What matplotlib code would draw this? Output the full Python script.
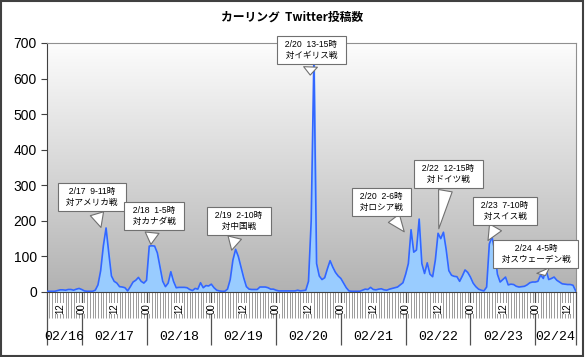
import numpy as np
import matplotlib
matplotlib.use("Agg")
import matplotlib.pyplot as plt
from matplotlib.colors import LinearSegmentedColormap
from matplotlib.patches import Rectangle

plt.rcParams['font.family'] = ['Liberation Sans', 'Noto Sans CJK JP', 'DejaVu Sans']

# hourly tweet counts, 02/16 11:00 -> 02/24 15:00
counts = [2, 2, 2, 2, 4, 6, 6, 5, 7, 7, 5, 8, 10,
          7, 3, 2, 2, 2, 5, 20, 60, 130, 180, 110, 45, 30, 25, 15, 14, 12, 3, 15, 28, 33, 41, 30, 25,
          33, 129, 130, 129, 110, 70, 30, 15, 25, 57, 30, 12, 13, 13, 13, 12, 7, 4, 10, 8, 26, 12, 18, 17,
          22, 12, 5, 3, 2, 2, 8, 35, 90, 120, 100, 70, 40, 15, 8, 7, 7, 7, 14, 14, 14, 12, 8, 8,
          5, 3, 3, 3, 3, 3, 3, 3, 5, 3, 4, 5, 30, 200, 657, 80, 45, 35, 40, 65, 88, 70, 55, 45,
          38, 25, 12, 3, 2, 2, 2, 2, 5, 8, 7, 13, 7, 6, 8, 9, 6, 5, 8, 10, 12, 14, 20, 26,
          50, 80, 175, 112, 118, 205, 80, 52, 82, 50, 43, 90, 165, 150, 168, 120, 60, 47, 44, 43, 30, 45,
          62, 55, 42, 25, 15, 8, 5, 3, 14, 135, 155, 115, 50, 28, 35, 42, 20, 22, 21, 16, 14, 15,
          16, 20, 26, 28, 28, 30, 48, 38, 63, 35, 38, 42, 33, 28, 23, 22, 21, 21, 19, 3]

days = ['02/16', '02/17', '02/18', '02/19', '02/20', '02/21', '02/22', '02/23', '02/24']
hour_labels = ['12', '00', '12', '00', '12', '00', '12', '00', '12',
               '00', '12', '00', '12', '00', '12', '00', '12']
hour_label_pos = [5, 13, 25, 37, 49, 61, 73, 85, 97, 109, 121, 133, 145, 157, 169, 181, 193]

notes = [
    ("2/17  9-11時\n対アメリカ戦", (20.4, 174), (16.8, 267)),
    ("2/18  1-5時\n対カナダ戦", (38.5, 126), (39.7, 214)),
    ("2/19  2-10時\n対中国戦", (68.3, 110), (71.2, 200)),
    ("2/20  13-15時\n対イギリス戦", (97.6, 602), (98.0, 680)),
    ("2/20  2-6時\n対ロシア戦", (133.1, 163), (124.0, 253)),
    ("2/22  12-15時\n対ドイツ戦", (145.1, 170), (148.8, 332)),
    ("2/23  7-10時\n対スイス戦", (163.0, 138), (169.8, 228)),
    ("2/24  4-5時\n対スウェーデン戦", (185.2, 39), (181.2, 107)),
]

x = np.arange(len(counts))
n_last = len(counts) - 1
day_starts = [0] + list(range(13, len(counts), 24))
day_edges = day_starts + [n_last]

fig = plt.figure(figsize=(5.85, 3.57), dpi=100)
ax = fig.add_axes([0.0798, 0.1821, 0.9043, 0.6975])

# gradient plot background
grad = LinearSegmentedColormap.from_list('g', ['#b2b2b2', '#fdfdfd'])
ax.imshow(np.linspace(0, 1, 256).reshape(-1, 1), cmap=grad, origin='lower',
          extent=[0, n_last, 0, 700], aspect='auto', zorder=0)

ax.fill_between(x, counts, color='#99ccff', zorder=2)
ax.plot(x, counts, color='#3366ff', lw=1.2, zorder=3)

ax.set_xlim(0, n_last)
ax.set_ylim(0, 700)
ax.set_yticks(range(0, 701, 100))
ax.tick_params(axis='y', labelsize=10, length=4, color='#404040', pad=3)
ax.set_xticks([])
for s in ['top', 'right']:
    ax.spines[s].set_color('#909090')
for s in ['left', 'bottom']:
    ax.spines[s].set_color('#404040')

# hourly tick marks and day separators below the axis
tr = ax.get_xaxis_transform()
ax.vlines(x, -0.104, 0, transform=tr, colors='#8a8a8a', lw=0.6, clip_on=False)
ax.vlines(day_edges, -0.213, 0, transform=tr, colors='#505050', lw=0.9, clip_on=False)

for pos, lab in zip(hour_label_pos, hour_labels):
    ax.text(pos, -0.066, lab, transform=tr, rotation=90, ha='center', va='center',
            fontsize=7, bbox=dict(fc='white', ec='none', pad=0.3))

for i, d in enumerate(days):
    ax.text((day_edges[i] + day_edges[i + 1]) / 2, -0.181, d, transform=tr,
            ha='center', va='center', fontsize=9.5, family='Liberation Mono')

for txt, tip, box in notes:
    padded = '\n'.join('  ' + line + '  ' for line in txt.split('\n'))
    ax.annotate(padded, xy=tip, xytext=box, ha='center', va='center', fontsize=6.2,
                linespacing=1.35, zorder=5,
                bbox=dict(boxstyle='square,pad=0.4', fc='white', ec='#707070', lw=0.8),
                arrowprops=dict(arrowstyle='wedge,tail_width=1.6', fc='white',
                                ec='#707070', lw=0.8))

fig.text(0.5, 0.952, 'カーリング  Twitter投稿数', ha='center', va='center',
         fontsize=8.5, fontweight='bold', family=['Noto Sans CJK JP', 'DejaVu Sans'])

fig.patches.append(Rectangle((0.002, 0.003), 0.995, 0.993, transform=fig.transFigure,
                             fill=False, ec='#404040', lw=1.5))

fig.savefig('out.png', dpi=100)
